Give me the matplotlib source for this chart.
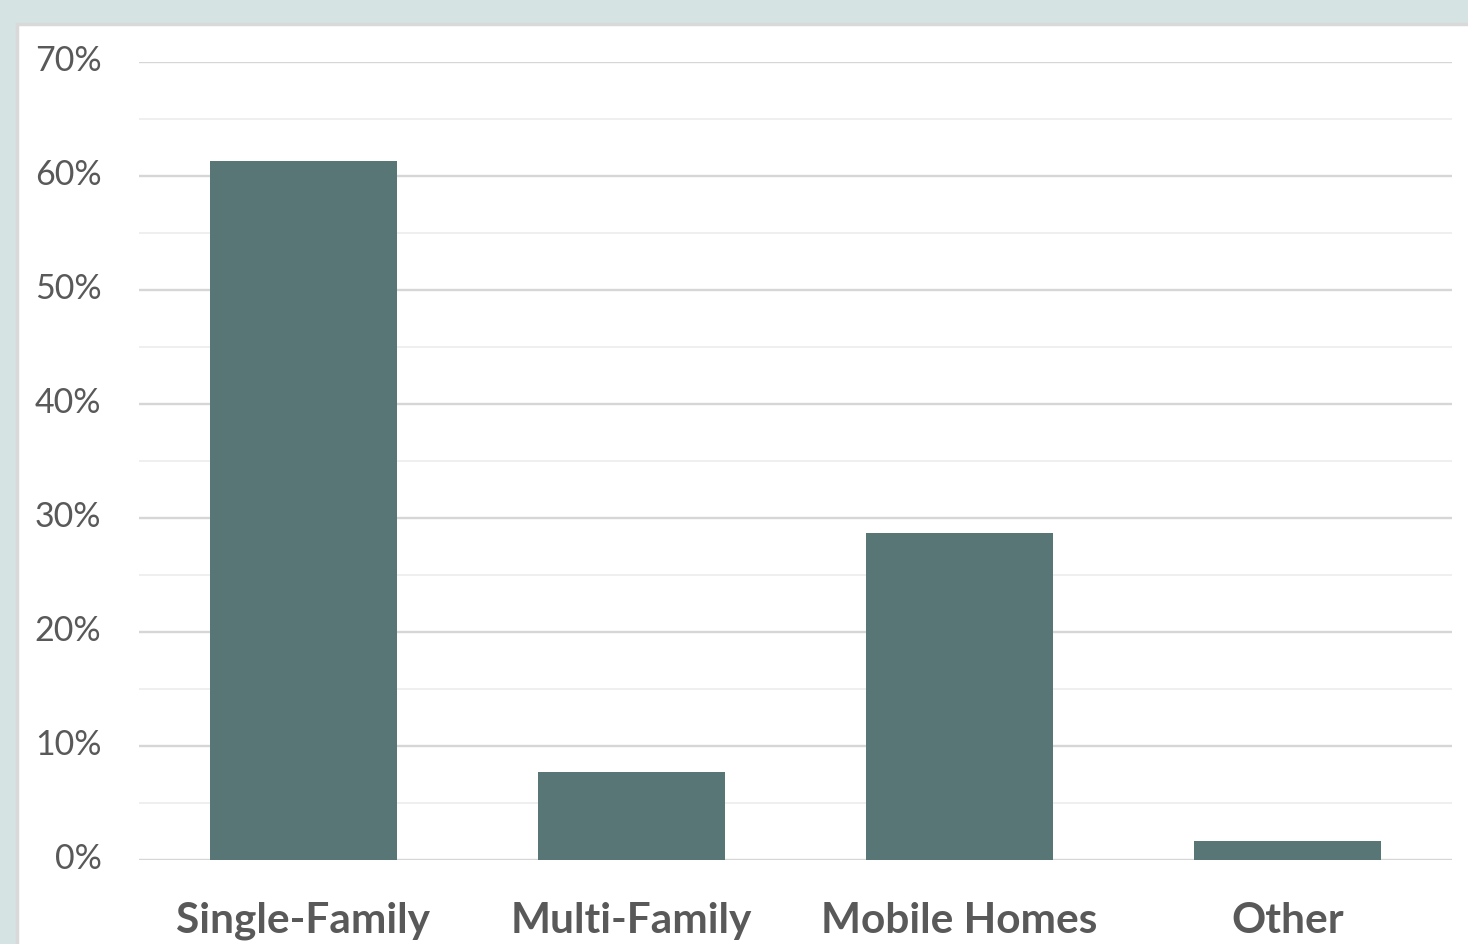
import matplotlib
matplotlib.use("Agg")
import matplotlib.pyplot as plt
from matplotlib.patches import Rectangle
from matplotlib.ticker import MultipleLocator, FuncFormatter
from matplotlib.transforms import ScaledTranslation

categories = ["Single-Family", "Multi-Family", "Mobile Homes", "Other"]
shares = [61.3, 7.7, 28.7, 1.7]

W, H = 1468, 944
fig = plt.figure(figsize=(W / 100, H / 100), dpi=100)
fig.patch.set_facecolor("#d6e3e3")

bg = fig.add_axes([0, 0, 1, 1], zorder=-5)
bg.set_xlim(0, W)
bg.set_ylim(H, 0)
bg.axis("off")
bg.add_patch(Rectangle((17, 24), W + 20, H + 20, facecolor="white",
                       edgecolor="#d9d9d9", linewidth=2.5))

ax = fig.add_axes([139 / W, (H - 860) / H, (1452 - 139) / W, (860 - 62) / H], zorder=1)
ax.set_facecolor("none")
x = range(len(categories))
ax.bar(x, shares, width=0.57, color="#587676", zorder=3)

ax.set_xlim(-0.5, 3.5)
ax.set_ylim(0, 70)
ax.yaxis.set_major_locator(MultipleLocator(10))
ax.yaxis.set_minor_locator(MultipleLocator(5))
ax.yaxis.set_major_formatter(FuncFormatter(lambda v, p: f"{v:.0f}%"))
ax.grid(axis="y", which="major", color="#d6d6d6", linewidth=1.7, zorder=1)
ax.grid(axis="y", which="minor", color="#efefef", linewidth=1.4, zorder=1)
ax.set_axisbelow(True)
for s in ax.spines.values():
    s.set_visible(False)
ax.tick_params(axis="y", which="both", length=0, pad=27, labelsize=24.5, labelcolor="#595959")
ax.tick_params(axis="x", length=0, pad=30)
ax.set_xticks(list(x))
ax.set_xticklabels(categories, fontsize=30.5, fontweight="bold", color="#595959")
shift = ScaledTranslation(0, 4 / 100, fig.dpi_scale_trans)
for lbl in ax.get_yticklabels():
    lbl.set_family("Lato")
    lbl.set_transform(lbl.get_transform() + shift)
for lbl in ax.get_xticklabels():
    lbl.set_family("Lato")

fig.savefig("out.png", dpi=100, facecolor=fig.get_facecolor())
